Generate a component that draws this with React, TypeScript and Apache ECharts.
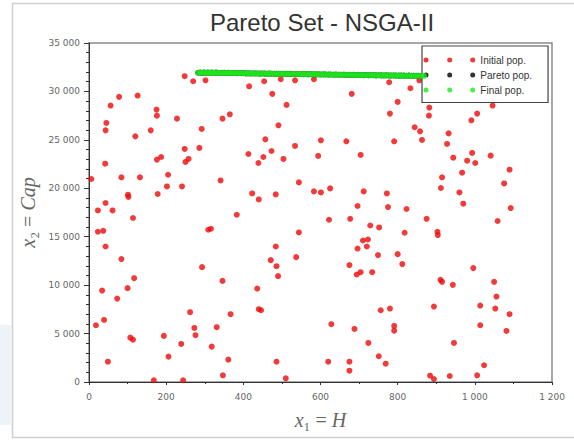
import React, { useEffect, useRef } from "react";
import * as echarts from "echarts";

// Initial population: [H, Cap]
const initialPop: [number, number][] = [
  [248, 31570], [270, 31050], [302, 31150], [78, 29440], [126, 29570], [56, 28540], [175, 28130], [176, 27500],
  [228, 27190], [346, 27190], [365, 27640], [45, 26750], [43, 25980], [160, 25980], [292, 26130], [120, 25360],
  [248, 24060], [286, 24170], [176, 22960], [187, 23230], [250, 22720], [258, 23030], [42, 22540], [6, 20960],
  [84, 21130], [132, 21130], [205, 21400], [341, 20810], [202, 20190], [241, 20190], [101, 19340], [102, 19100],
  [178, 19410], [43, 18480],
  [23, 17710], [61, 17710], [114, 16930], [383, 17270], [23, 15510], [37, 15610], [43, 13990], [84, 12690],
  [293, 11860], [309, 15720], [316, 15820], [117, 10720], [346, 10440], [34, 9440], [100, 9690], [73, 8610],
  [262, 7210], [367, 7000], [39, 6410], [18, 5860], [273, 5580], [331, 5660], [107, 4580], [114, 4370],
  [194, 4760], [276, 4830], [239, 3930], [318, 3650], [206, 2620], [361, 2310], [49, 2100], [347, 690],
  [168, 180], [244, 180],
  [415, 30530], [454, 31050], [497, 31260], [534, 31150], [583, 31260], [778, 30950], [475, 29750], [681, 29750],
  [512, 28610], [800, 28920], [780, 27710], [491, 26500], [457, 25050], [601, 24950], [667, 24850], [791, 24850],
  [534, 24370], [413, 23540], [452, 23230], [473, 23850], [439, 22610], [504, 23030], [594, 23340], [704, 23440],
  [544, 20610], [423, 19470], [440, 18850], [484, 19370], [583, 19680], [601, 19570], [625, 19990], [712, 19680],
  [772, 19470], [696, 18170], [775, 18060],
  [856, 31150], [833, 30330], [882, 28330], [881, 27500], [1046, 28540], [1006, 27710], [991, 27020], [844, 26300],
  [858, 25880], [863, 24990], [932, 25670], [928, 24580], [944, 23160], [993, 23650], [980, 22850], [1001, 22610],
  [1041, 23370], [1090, 21920], [967, 21610], [915, 21130], [1076, 20500], [912, 20030], [960, 19570], [970, 18410],
  [823, 17860], [1093, 17960],
  [622, 16750], [677, 16850], [729, 16160], [752, 15960], [544, 15440], [484, 13990], [710, 14610], [723, 14710],
  [720, 13990], [696, 13780], [749, 13100], [800, 13200], [471, 12580], [486, 11960], [537, 12890], [490, 10930],
  [675, 12070], [694, 11100], [704, 11340], [734, 11340], [812, 12170], [436, 9650], [440, 7520], [446, 7410],
  [756, 7410], [780, 7580], [628, 5970], [688, 5480], [791, 5790], [791, 5300], [724, 4030], [486, 2100],
  [620, 2100], [675, 2100], [675, 1170], [751, 2660], [769, 1890], [510, 380],
  [875, 16850], [1059, 16620], [818, 15410], [903, 15510], [904, 15170], [996, 11760], [911, 10550], [915, 10340],
  [943, 10030], [1050, 10340], [1056, 8820], [894, 7790], [1014, 7890], [1053, 7580], [1090, 7000], [1014, 5860],
  [1082, 5270], [946, 4030], [1024, 1730], [884, 650], [894, 310], [935, 620], [1006, 690],
];

// Final population (Pareto front), [H, Cap]
const finalPop: [number, number][] = [
  [283, 31930], [288, 31950], [293, 31920], [298, 31940], [303, 31930], [308, 31950], [313, 31930], [318, 31940],
  [324, 31920], [329, 31940], [334, 31930], [340, 31910], [345, 31930], [351, 31920], [356, 31900], [362, 31920],
  [367, 31910], [373, 31900], [378, 31910], [384, 31890], [389, 31900], [395, 31880], [401, 31890], [407, 31860],
  [413, 31870], [419, 31860], [425, 31850], [431, 31860], [437, 31850], [443, 31840], [449, 31850], [455, 31840],
  [461, 31830], [467, 31840], [473, 31830], [480, 31820], [486, 31830], [492, 31820], [498, 31810], [504, 31820],
  [511, 31810], [517, 31800], [523, 31810], [530, 31800], [536, 31790], [543, 31800], [549, 31790], [556, 31780],
  [562, 31790], [569, 31770], [575, 31780], [582, 31770], [588, 31760], [595, 31770], [601, 31750], [608, 31760],
  [614, 31750], [621, 31740], [627, 31750], [634, 31730], [640, 31740], [647, 31730], [653, 31720], [660, 31730],
  [666, 31710], [673, 31720], [679, 31700], [686, 31710], [692, 31700], [699, 31690], [705, 31700], [712, 31680],
  [718, 31690], [725, 31680], [731, 31670], [738, 31680], [744, 31660], [751, 31670], [757, 31660], [764, 31650],
  [770, 31660], [777, 31650], [783, 31640], [790, 31650], [796, 31640], [803, 31630], [809, 31640], [816, 31630],
  [822, 31620], [829, 31630], [835, 31620], [842, 31610], [848, 31620], [855, 31610], [861, 31600], [868, 31610],
];

// Pareto population (hidden beneath the final population)
const paretoPop: [number, number][] = finalPop;

const seriesNames = ["Initial pop.", "Pareto pop.", "Final pop."];
const seriesColors = ["#ee0a0a", "#000000", "#1ee81e"];

const fmt = (v: number) => String(v).replace(/\B(?=(\d{3})+(?!\d))/g, " ");

const threeDots =
  "path://M0,2.5A2.5,2.5,0,1,0,5,2.5A2.5,2.5,0,1,0,0,2.5ZM23.7,2.5A2.5,2.5,0,1,0,28.7,2.5A2.5,2.5,0,1,0,23.7,2.5ZM46.7,2.5A2.5,2.5,0,1,0,51.7,2.5A2.5,2.5,0,1,0,46.7,2.5Z";

export default function App() {
  const ref = useRef<HTMLDivElement>(null);
  useEffect(() => {
    const chart = echarts.init(ref.current!, null, { renderer: "svg" });
    const nameRich = {
      i: { fontStyle: "italic", fontSize: 20, fontFamily: "Liberation Serif, DejaVu Serif", color: "#666" },
      n: { fontSize: 20, fontFamily: "Liberation Serif, DejaVu Serif", color: "#666" },
    };
    const labelStyle = { fontSize: 9, color: "#666", fontFamily: "DejaVu Sans" };
    chart.setOption({
      animation: false,
      backgroundColor: "#fff",
      title: {
        text: "Pareto Set - NSGA-II",
        left: 205,
        top: 5,
        textStyle: { fontSize: 24, fontWeight: "normal", color: "#333", fontFamily: "Liberation Sans" },
      },
      graphic: [
        { type: "rect", silent: true, shape: { x: 0, y: 325, width: 11, height: 100 }, style: { fill: "#eef3f8" } },
        {
          type: "rect",
          silent: true,
          shape: { x: 12.5, y: 3.5, width: 600, height: 434 },
          style: { fill: "none", stroke: "#cfcfcf", lineWidth: 1.5 },
        },
      ],
      legend: {
        orient: "vertical",
        left: 422,
        top: 46,
        padding: [8.5, 16, 7, 1.5],
        itemGap: 4,
        itemWidth: 52,
        itemHeight: 5,
        selectedMode: false,
        backgroundColor: "#fff",
        borderColor: "#444",
        borderWidth: 1.2,
        data: seriesNames.map((n) => ({ name: n, icon: threeDots })),
        textStyle: { fontSize: 10, color: "#333", fontFamily: "Liberation Sans", lineHeight: 11 },
      },
      grid: {
        left: 89,
        right: 22,
        top: 43,
        bottom: 58,
        show: true,
        borderColor: "#8a8a8a",
        borderWidth: 1.5,
        containLabel: false,
        outerBoundsMode: "none",
      },
      xAxis: {
        type: "value",
        min: 0,
        max: 1200,
        interval: 200,
        axisLine: { show: true, onZero: false, lineStyle: { color: "#333", width: 1 } },
        axisTick: { show: true, length: 3, lineStyle: { color: "#333" } },
        minorTick: { show: true, splitNumber: 2, length: 2, lineStyle: { color: "#333" } },
        splitLine: { show: false },
        axisLabel: { ...labelStyle, formatter: fmt, margin: 10 },
        name: "{i|x}{n|₁ = }{i|H}",
        nameLocation: "middle",
        nameGap: 28,
        nameTextStyle: { rich: nameRich },
      },
      yAxis: {
        type: "value",
        min: 0,
        max: 35000,
        interval: 5000,
        axisLine: { show: true, onZero: false, lineStyle: { color: "#333", width: 1 } },
        axisTick: { show: true, length: 5, lineStyle: { color: "#333" } },
        minorTick: { show: true, splitNumber: 5, length: 3, lineStyle: { color: "#333" } },
        splitLine: { show: false },
        axisLabel: { ...labelStyle, formatter: fmt, margin: 9 },
        name: "{i|x}{n|₂ = }{i|Cap}",
        nameLocation: "middle",
        nameGap: 49,
        nameRotate: 90,
        nameTextStyle: { rich: nameRich },
      },
      series: [
        {
          name: seriesNames[0],
          type: "scatter",
          data: initialPop,
          symbolSize: 6,
          itemStyle: { color: seriesColors[0] },
          silent: true,
          z: 2,
        },
        {
          name: seriesNames[1],
          type: "scatter",
          data: paretoPop,
          symbolSize: 6,
          itemStyle: { color: seriesColors[1] },
          silent: true,
          z: 3,
        },
        {
          name: seriesNames[2],
          type: "scatter",
          data: finalPop,
          symbolSize: 6,
          itemStyle: { color: seriesColors[2] },
          silent: true,
          z: 4,
        },
      ],
    });
    return () => chart.dispose();
  }, []);
  return (
    <div
      ref={ref}
      style={{ position: "absolute", left: 0, top: 0, width: 574, height: 440, background: "#fff" }}
    />
  );
}
